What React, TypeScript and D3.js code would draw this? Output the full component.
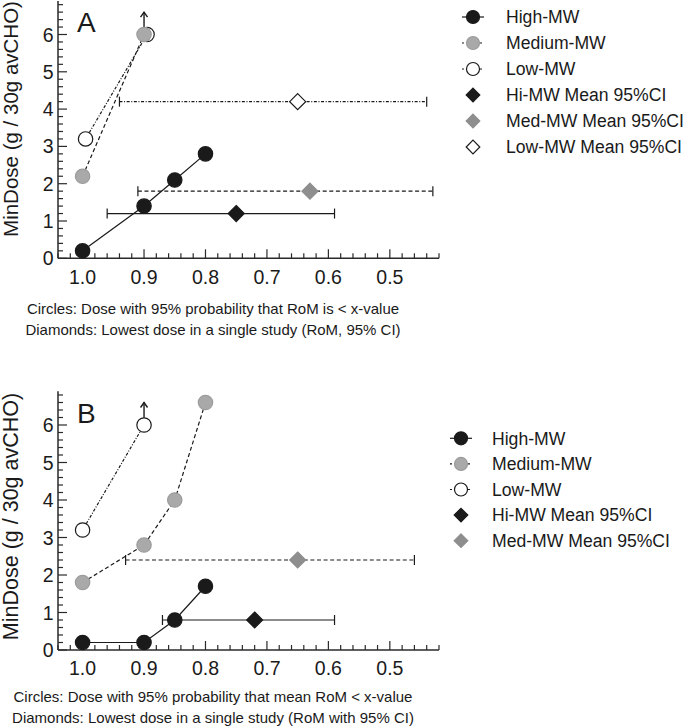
import React from "react";
import * as d3 from "d3";

type Pt = { x: number; y: number };

const xMajorTicks = [1.0, 0.9, 0.8, 0.7, 0.6, 0.5];
const yMajorTicks = [0, 1, 2, 3, 4, 5, 6];

// Panel A
const aHigh: Pt[] = [
  { x: 1.0, y: 0.2 },
  { x: 0.9, y: 1.4 },
  { x: 0.85, y: 2.1 },
  { x: 0.8, y: 2.8 },
];
const aMedium: Pt[] = [
  { x: 1.0, y: 2.2 },
  { x: 0.9, y: 6.0 },
];
const aLow: Pt[] = [
  { x: 1.0, y: 3.2 },
  { x: 0.9, y: 6.0 },
];
const aArrow = { x: 0.9, from: 6.0, to: 6.6 };
const aDiamonds = [
  { key: "hi", x: 0.75, y: 1.2, lo: 0.96, hi: 0.59 },
  { key: "med", x: 0.63, y: 1.8, lo: 0.91, hi: 0.43 },
  { key: "low", x: 0.65, y: 4.2, lo: 0.94, hi: 0.44 },
];
const aLegend = [
  "High-MW",
  "Medium-MW",
  "Low-MW",
  "Hi-MW Mean 95%CI",
  "Med-MW Mean 95%CI",
  "Low-MW Mean 95%CI",
];
const aCaption = [
  "Circles: Dose with 95% probability that RoM is < x-value",
  "Diamonds: Lowest dose in a single study (RoM, 95% CI)",
];

// Panel B
const bHigh: Pt[] = [
  { x: 1.0, y: 0.2 },
  { x: 0.9, y: 0.2 },
  { x: 0.85, y: 0.8 },
  { x: 0.8, y: 1.7 },
];
const bMedium: Pt[] = [
  { x: 1.0, y: 1.8 },
  { x: 0.9, y: 2.8 },
  { x: 0.85, y: 4.0 },
  { x: 0.8, y: 6.6 },
];
const bLow: Pt[] = [
  { x: 1.0, y: 3.2 },
  { x: 0.9, y: 6.0 },
];
const bArrow = { x: 0.9, from: 6.0, to: 6.6 };
const bDiamonds = [
  { key: "hi", x: 0.72, y: 0.8, lo: 0.87, hi: 0.59 },
  { key: "med", x: 0.65, y: 2.4, lo: 0.93, hi: 0.46 },
];
const bLegend = [
  "High-MW",
  "Medium-MW",
  "Low-MW",
  "Hi-MW Mean 95%CI",
  "Med-MW Mean 95%CI",
];
const bCaption = [
  "Circles: Dose with 95% probability that mean RoM < x-value",
  "Diamonds: Lowest dose in a single study (RoM with 95% CI)",
];

const yTitle = "MinDose (g / 30g avCHO)";

const FONT = "'Liberation Sans', Arial, Helvetica, sans-serif";
const BLACK = "#1a1a1a";
const AXIS = "#2a2a2a";
const GRAY_FILL = "#a9a9a9";
const GRAY_STROKE = "#9c9c9c";
const GRAY_DIAMOND = "#8e8e8e";

const styles: Record<string, any> = {
  hi: { fill: BLACK, stroke: BLACK, dash: undefined },
  med: { fill: GRAY_FILL, stroke: GRAY_STROKE, dash: "4,2.6" },
  low: { fill: "#ffffff", stroke: BLACK, dash: "3,1.6,1,1.6" },
};
const diamondFill: Record<string, any> = {
  hi: { fill: BLACK, stroke: BLACK },
  med: { fill: GRAY_DIAMOND, stroke: GRAY_DIAMOND },
  low: { fill: "#ffffff", stroke: BLACK },
};

const xDomain: [number, number] = [1.04, 0.42];
const yDomain: [number, number] = [0, 6.9];

function diamondPath(cx: number, cy: number, r: number) {
  return `M${cx},${cy - r}L${cx + r},${cy}L${cx},${cy + r}L${cx - r},${cy}Z`;
}

type PanelProps = {
  top: number;
  unit: number;
  letter: string;
  letterY: number;
  titleY: number;
  titleSize: number;
  high: Pt[];
  medium: Pt[];
  low: Pt[];
  lowDx: number;
  order: string[];
  arrow: { x: number; from: number; to: number };
  diamonds: { key: string; x: number; y: number; lo: number; hi: number }[];
  legend: string[];
  legendX: number;
  legendTextX: number;
  legendY0: number;
  legendDy: number;
  caption: string[];
  captionY: number[];
  tickLabelY: number;
};

function Panel(p: PanelProps) {
  const x = d3.scaleLinear().domain(xDomain).range([58, 439]);
  const y = d3
    .scaleLinear()
    .domain(yDomain)
    .range([p.top, p.top - yDomain[1] * p.unit]);
  const minorX = d3.range(0, 32).map((i) => 1.04 - i * 0.02);
  const minorY = d3.range(0, 35).map((i) => i * 0.2);
  const lineDx = (dx: number) =>
    d3
      .line<Pt>()
      .x((d) => x(d.x) + dx)
      .y((d) => y(d.y));

  const seriesMap: Record<string, { data: Pt[]; dx: number }> = {
    hi: { data: p.high, dx: 0 },
    med: { data: p.medium, dx: 0 },
    low: { data: p.low, dx: p.lowDx },
  };

  const R = 7.2;
  const ax = x(p.arrow.x);
  const ay0 = y(p.arrow.from) - R;
  const ay1 = y(p.arrow.to);

  return (
    <g>
      <line x1={58} x2={439} y1={p.top} y2={p.top} stroke={AXIS} strokeWidth={1.5} />
      <line x1={58} x2={58} y1={p.top} y2={y(yDomain[1])} stroke={AXIS} strokeWidth={1.5} />
      {minorX.map((v, i) => {
        const major = xMajorTicks.some((m) => Math.abs(m - v) < 1e-6);
        return (
          <line
            key={"mx" + i}
            x1={x(v)}
            x2={x(v)}
            y1={p.top}
            y2={p.top - (major ? 9 : 5)}
            stroke={AXIS}
            strokeWidth={1.2}
          />
        );
      })}
      {minorY.map((v, i) => {
        const major = yMajorTicks.some((m) => Math.abs(m - v) < 1e-6);
        return (
          <line
            key={"my" + i}
            x1={58}
            x2={58 + (major ? 9 : 5)}
            y1={y(v)}
            y2={y(v)}
            stroke={AXIS}
            strokeWidth={1.2}
          />
        );
      })}
      {xMajorTicks.map((v) => (
        <text
          key={"xl" + v}
          x={x(v)}
          y={p.tickLabelY}
          textAnchor="middle"
          fontSize={19.5}
          fontFamily={FONT}
          fill={BLACK}
        >
          {v.toFixed(1)}
        </text>
      ))}
      {yMajorTicks.map((v) => (
        <text
          key={"yl" + v}
          x={53.5}
          y={y(v)}
          dy="0.36em"
          textAnchor="end"
          fontSize={19.5}
          fontFamily={FONT}
          fill={BLACK}
        >
          {v}
        </text>
      ))}
      <text
        transform={`translate(17.5,${p.titleY}) rotate(-90)`}
        textAnchor="middle"
        fontSize={p.titleSize}
        fontFamily={FONT}
        fill={BLACK}
      >
        {yTitle}
      </text>
      <text x={77} y={p.letterY} fontSize={28} fontFamily={FONT} fill={BLACK}>
        {p.letter}
      </text>

      {p.diamonds.map((d) => {
        const st = styles[d.key];
        const yy = y(d.y);
        return (
          <g key={"eb" + d.key}>
            <line
              x1={x(d.lo)}
              x2={x(d.hi)}
              y1={yy}
              y2={yy}
              stroke={BLACK}
              strokeWidth={1.2}
              strokeDasharray={st.dash}
            />
            <line x1={x(d.lo)} x2={x(d.lo)} y1={yy - 5} y2={yy + 5} stroke={BLACK} strokeWidth={1.2} />
            <line x1={x(d.hi)} x2={x(d.hi)} y1={yy - 5} y2={yy + 5} stroke={BLACK} strokeWidth={1.2} />
          </g>
        );
      })}
      {p.diamonds.map((d) => {
        const f = diamondFill[d.key];
        return (
          <path
            key={"dm" + d.key}
            d={diamondPath(x(d.x), y(d.y), 8)}
            fill={f.fill}
            stroke={f.stroke}
            strokeWidth={1.2}
          />
        );
      })}

      {p.order.map((k) => {
        const s = seriesMap[k];
        const st = styles[k];
        return (
          <path
            key={"ln" + k}
            d={lineDx(s.dx)(s.data) || ""}
            fill="none"
            stroke={BLACK}
            strokeWidth={1.2}
            strokeDasharray={st.dash}
          />
        );
      })}
      <line x1={ax} x2={ax} y1={ay0} y2={ay1} stroke={BLACK} strokeWidth={1.4} />
      <path
        d={`M${ax - 3.5},${ay1 + 5}L${ax},${ay1}L${ax + 3.5},${ay1 + 5}`}
        fill="none"
        stroke={BLACK}
        strokeWidth={1.4}
      />
      {p.order.map((k) => {
        const s = seriesMap[k];
        const st = styles[k];
        return (
          <g key={"pt" + k}>
            {s.data.map((d, i) => (
              <circle
                key={i}
                cx={x(d.x) + s.dx}
                cy={y(d.y)}
                r={R}
                fill={st.fill}
                stroke={st.stroke}
                strokeWidth={1.2}
              />
            ))}
          </g>
        );
      })}

      {p.legend.map((label, i) => {
        const ly = p.legendY0 + i * p.legendDy;
        const lx = p.legendX;
        let sym: React.ReactNode = null;
        if (i < 3) {
          const k = ["hi", "med", "low"][i];
          const st = styles[k];
          sym = (
            <g>
              <line
                x1={lx - 11}
                x2={lx + 11}
                y1={ly}
                y2={ly}
                stroke={BLACK}
                strokeWidth={1.2}
                strokeDasharray={k === "hi" ? undefined : "2,2.5"}
              />
              <circle cx={lx} cy={ly} r={6.5} fill={st.fill} stroke={st.stroke} strokeWidth={1.2} />
            </g>
          );
        } else {
          const k = ["hi", "med", "low"][i - 3];
          const f = diamondFill[k];
          sym = <path d={diamondPath(lx, ly, 6.8)} fill={f.fill} stroke={f.stroke} strokeWidth={1.2} />;
        }
        return (
          <g key={"lg" + i}>
            {sym}
            <text
              x={p.legendTextX}
              y={ly}
              dy="0.36em"
              fontSize={17.6}
              fontFamily={FONT}
              fill={BLACK}
            >
              {label}
            </text>
          </g>
        );
      })}

      {p.caption.map((c, i) => (
        <text
          key={"cap" + i}
          x={213}
          y={p.captionY[i]}
          textAnchor="middle"
          fontSize={15}
          fontFamily={FONT}
          fill={BLACK}
        >
          {c}
        </text>
      ))}
    </g>
  );
}

export default function App() {
  return (
    <svg
      width={685}
      height={727}
      viewBox="0 0 685 727"
      style={{ position: "absolute", left: 0, top: 0, background: "#fff" }}
    >
      <rect width={685} height={727} fill="#fff" />
      <Panel
        top={258.3}
        unit={37.3}
        letter="A"
        letterY={31.5}
        titleY={119}
        titleSize={20.5}
        high={aHigh}
        medium={aMedium}
        low={aLow}
        lowDx={3}
        order={["low", "med", "hi"]}
        arrow={aArrow}
        diamonds={aDiamonds}
        legend={aLegend}
        legendX={473}
        legendTextX={506}
        legendY0={17}
        legendDy={26}
        caption={aCaption}
        captionY={[313.5, 334.5]}
        tickLabelY={283.5}
      />
      <Panel
        top={650}
        unit={37.5}
        letter="B"
        letterY={423}
        titleY={516.5}
        titleSize={21.5}
        high={bHigh}
        medium={bMedium}
        low={bLow}
        lowDx={0}
        order={["low", "med", "hi"]}
        arrow={bArrow}
        diamonds={bDiamonds}
        legend={bLegend}
        legendX={461}
        legendTextX={492}
        legendY0={438.3}
        legendDy={25.6}
        caption={bCaption}
        captionY={[702, 723]}
        tickLabelY={675}
      />
    </svg>
  );
}
